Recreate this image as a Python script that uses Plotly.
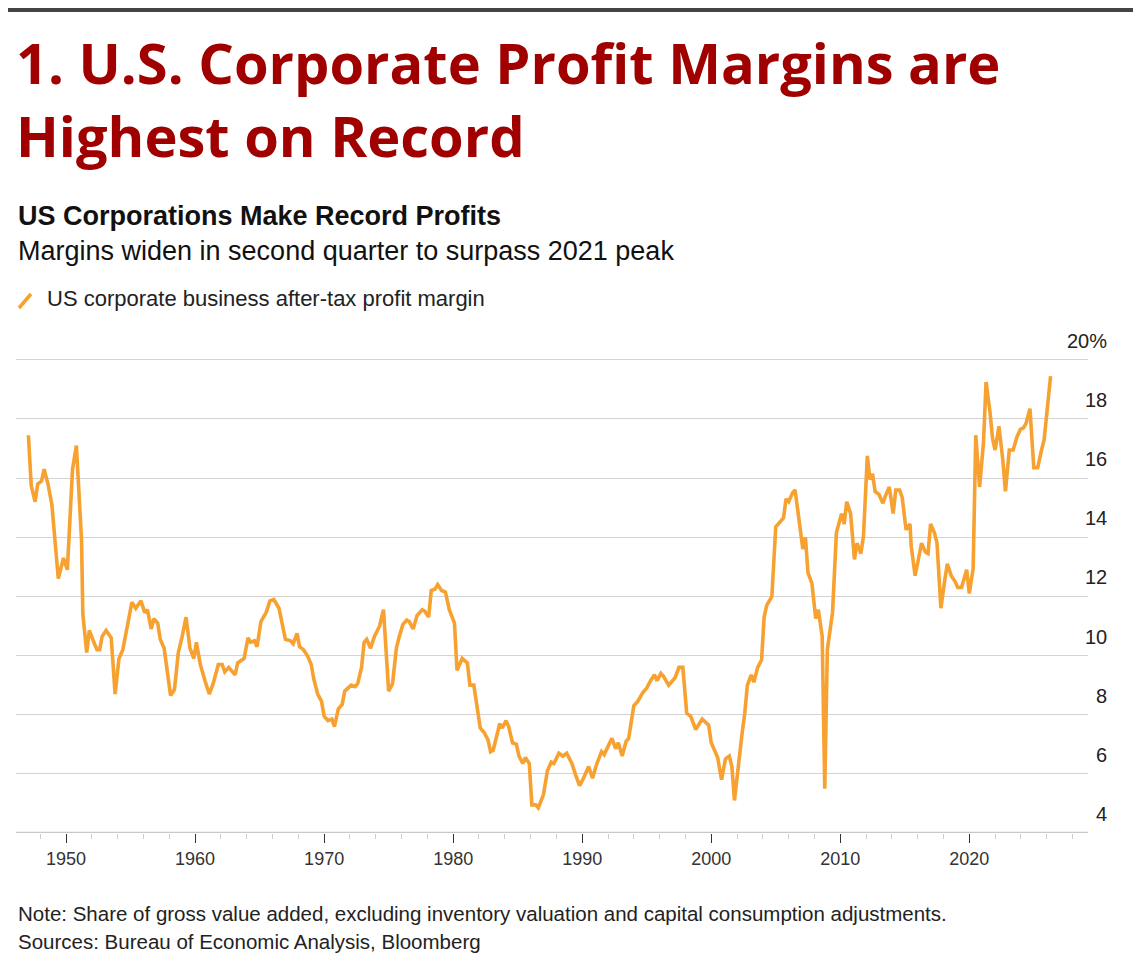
import plotly.graph_objects as go

years = [1947.08, 1947.3, 1947.6, 1947.8, 1948.1, 1948.3, 1948.6, 1948.9, 1949.1, 1949.4,
         1949.8, 1950.1, 1950.5, 1950.8, 1951.2, 1951.3, 1951.6, 1951.8, 1952.2, 1952.4,
         1952.6, 1952.8, 1953.1, 1953.5, 1953.8, 1954.1, 1954.4, 1954.7, 1955.1, 1955.4,
         1955.8, 1956.1, 1956.3, 1956.6, 1956.8, 1957.1, 1957.3, 1957.6, 1957.8, 1958.1,
         1958.4, 1958.7, 1959.0, 1959.3, 1959.6, 1959.9, 1960.1, 1960.4, 1960.8, 1961.1,
         1961.4, 1961.8, 1962.1, 1962.3, 1962.6, 1963.1, 1963.3, 1963.8, 1964.1, 1964.3,
         1964.6, 1964.8, 1965.1, 1965.5, 1965.8, 1966.1, 1966.5, 1966.7, 1967.0, 1967.4,
         1967.6, 1967.9, 1968.1, 1968.4, 1968.7, 1969.0, 1969.2, 1969.5, 1969.8, 1970.0,
         1970.3, 1970.6, 1970.8, 1971.1, 1971.4, 1971.6, 1971.9, 1972.1, 1972.4, 1972.6,
         1972.9, 1973.1, 1973.3, 1973.6, 1973.9, 1974.3, 1974.6, 1974.8, 1975.0, 1975.3,
         1975.6, 1975.8, 1976.1, 1976.4, 1976.6, 1976.9, 1977.2, 1977.6, 1977.8, 1978.1,
         1978.3, 1978.6, 1978.8, 1979.1, 1979.4, 1979.7, 1980.1, 1980.3, 1980.7, 1981.1,
         1981.3, 1981.6, 1981.8, 1982.1, 1982.4, 1982.7, 1982.9, 1983.1, 1983.5, 1983.6,
         1983.8, 1984.1, 1984.3, 1984.6, 1984.9, 1985.1, 1985.4, 1985.6, 1985.9, 1986.1,
         1986.4, 1986.6, 1987.0, 1987.3, 1987.6, 1987.8, 1988.2, 1988.5, 1988.8, 1989.2,
         1989.5, 1989.8, 1990.1, 1990.5, 1990.8, 1991.1, 1991.5, 1991.7, 1992.3, 1992.6,
         1992.8, 1993.1, 1993.4, 1993.6, 1994.0, 1994.3, 1994.7, 1995.0, 1995.3, 1995.6,
         1995.8, 1996.1, 1996.3, 1996.7, 1997.2, 1997.5, 1997.8, 1998.1, 1998.4, 1998.8,
         1999.3, 1999.8, 2000.0, 2000.5, 2000.8, 2001.1, 2001.4, 2001.6, 2001.8, 2002.1,
         2002.4, 2002.6, 2002.8, 2003.1, 2003.3, 2003.6, 2003.9, 2004.1, 2004.3, 2004.7,
         2005.0, 2005.6, 2005.8, 2006.0, 2006.3, 2006.5, 2006.8, 2007.1, 2007.3, 2007.5,
         2007.8, 2008.1, 2008.3, 2008.6, 2008.8, 2009.0, 2009.4, 2009.7, 2010.1, 2010.3,
         2010.5, 2010.8, 2011.1, 2011.3, 2011.6, 2011.8, 2012.1, 2012.3, 2012.5, 2012.7,
         2013.0, 2013.3, 2013.5, 2013.8, 2014.1, 2014.3, 2014.6, 2014.8, 2015.1, 2015.4,
         2015.5, 2015.8, 2016.1, 2016.3, 2016.6, 2016.8, 2017.0, 2017.3, 2017.5, 2017.8,
         2018.1, 2018.3, 2018.6, 2018.9, 2019.1, 2019.4, 2019.8, 2020.0, 2020.3, 2020.5,
         2020.8, 2021.1, 2021.3, 2021.6, 2021.8, 2022.0, 2022.3, 2022.6, 2022.8, 2023.1,
         2023.4, 2023.7, 2023.96, 2024.2, 2024.4, 2024.7, 2025.0, 2025.3, 2025.6, 2025.8,
         2026.3]
margin = [17.45, 15.75, 15.2, 15.8, 15.9, 16.3, 15.8, 15.1, 14.1, 12.6,
          13.3, 12.9, 16.3, 17.1, 13.9, 11.4, 10.1, 10.85, 10.4, 10.2,
          10.2, 10.65, 10.85, 10.6, 8.7, 9.9, 10.2, 10.9, 11.8, 11.6,
          11.85, 11.45, 11.55, 10.9, 11.25, 11.1, 10.55, 10.25, 9.65, 8.65,
          8.85, 10.1, 10.65, 11.3, 10.25, 9.9, 10.45, 9.7, 9.1, 8.7,
          9.05, 9.7, 9.7, 9.45, 9.6, 9.35, 9.75, 9.9, 10.6, 10.45,
          10.5, 10.3, 11.15, 11.45, 11.85, 11.9, 11.6, 11.2, 10.55, 10.5,
          10.4, 10.75, 10.3, 10.2, 10.0, 9.7, 9.2, 8.7, 8.45, 7.95,
          7.8, 7.85, 7.6, 8.2, 8.35, 8.8, 8.9, 9.0, 8.95, 9.05,
          9.6, 10.45, 10.55, 10.25, 10.65, 11.0, 11.55, 10.2, 8.8, 9.05,
          10.25, 10.6, 11.05, 11.2, 11.15, 10.9, 11.35, 11.55, 11.5, 11.3,
          12.2, 12.25, 12.4, 12.2, 12.15, 11.55, 11.1, 9.5, 9.9, 9.75,
          9.0, 9.0, 8.35, 7.55, 7.4, 7.15, 6.75, 6.8, 7.5, 7.7,
          7.55, 7.8, 7.6, 7.05, 7.0, 6.6, 6.35, 6.55, 6.35, 4.95,
          4.95, 4.85, 5.3, 6.1, 6.4, 6.35, 6.7, 6.6, 6.7, 6.35,
          5.95, 5.6, 5.85, 6.25, 5.85, 6.3, 6.75, 6.65, 7.2, 6.85,
          7.05, 6.6, 7.1, 7.2, 8.3, 8.45, 8.75, 8.9, 9.15, 9.35,
          9.15, 9.4, 9.3, 9.0, 9.25, 9.6, 9.6, 8.05, 7.95, 7.5,
          7.85, 7.65, 7.05, 6.55, 5.8, 6.5, 6.6, 6.25, 5.1, 6.4,
          7.4, 8.05, 9.0, 9.35, 9.1, 9.6, 9.85, 11.3, 11.7, 12.0,
          14.35, 14.65, 15.3, 15.2, 15.5, 15.6, 14.6, 13.6, 14.0, 12.8,
          12.45, 11.25, 11.55, 10.65, 5.5, 10.2, 11.45, 14.15, 14.8, 14.45,
          15.2, 14.8, 13.25, 13.8, 13.45, 14.05, 16.75, 15.95, 16.15, 15.55,
          15.45, 15.15, 15.4, 15.7, 14.8, 15.6, 15.6, 15.35, 14.25, 14.45,
          13.7, 12.7, 13.35, 13.8, 13.5, 13.45, 14.45, 14.15, 13.8, 11.6,
          12.55, 13.1, 12.7, 12.5, 12.3, 12.3, 12.9, 12.1, 12.95, 17.45,
          15.7, 17.2, 19.25, 18.25, 17.35, 16.95, 17.75, 16.6, 15.55, 16.95,
          16.95, 17.4, 17.65, 17.7, 17.85, 18.35, 16.35, 16.35, 16.95, 17.3,
          19.45]

y_ticks = [4, 6, 8, 10, 12, 14, 16, 18, 20]
y_labels = ["4", "6", "8", "10", "12", "14", "16", "18", "20%"]
x_ticks = [1950, 1960, 1970, 1980, 1990, 2000, 2010, 2020]

orange = "#f7a131"
font = "Liberation Sans, Arial, sans-serif"

# page px -> paper y (plot bottom at page y 833, plot height 485)
def py(page_y):
    return (833 - page_y) / 485

def px(page_x):
    return (page_x - 18) / 1072

fig = go.Figure()
fig.add_trace(go.Scatter(x=years, y=margin, mode="lines",
                         line=dict(color=orange, width=3.6), hoverinfo="skip"))

fig.update_layout(
    width=1141, height=958,
    margin=dict(l=8, r=61, t=340, b=133),
    paper_bgcolor="white", plot_bgcolor="white",
    showlegend=False,
    font=dict(family=font, color="#222"),
    xaxis=dict(range=[1946.12, 2029.2], tickvals=x_ticks, showgrid=False,
               ticks="outside", ticklen=9, tickcolor="#333", tickwidth=1,
               minor=dict(dtick=2, ticks="outside", ticklen=5, tickcolor="#ccc"),
               showline=False, zeroline=False,
               tickfont=dict(size=18, color="#333")),
    yaxis=dict(range=[4, 20.4], tickvals=y_ticks, showticklabels=False,
               gridcolor="#d3d3d3", gridwidth=1.3, zeroline=False, showline=False),
)

fig.add_hline(y=y_ticks[0], line=dict(color="#c8c8c8", width=2.5))

for v, lab in zip(y_ticks, y_labels):
    fig.add_annotation(x=px(1111), xref="paper", y=v, yref="y", text=lab,
                       showarrow=False, xanchor="right", yanchor="bottom", yshift=6,
                       font=dict(size=20, color="#222"))

fig.add_shape(type="rect", xref="paper", yref="paper", x0=px(8), x1=px(1149),
              y0=py(12), y1=py(8), fillcolor="#444", line_width=0)
fig.add_annotation(x=px(16), xref="paper", y=py(22), yref="paper",
                   xanchor="left", yanchor="top", showarrow=False, align="left",
                   text="<b>1. U.S. Corporate Profit Margins are<br>Highest on Record</b>",
                   font=dict(family="Open Sans, sans-serif", size=56, color="#a00000"))
fig.add_annotation(x=0, xref="paper", y=py(216), yref="paper",
                   xanchor="left", yanchor="middle", showarrow=False,
                   text="<b>US Corporations Make Record Profits</b>",
                   font=dict(family=font, size=27, color="#111"))
fig.add_annotation(x=0, xref="paper", y=py(251), yref="paper",
                   xanchor="left", yanchor="middle", showarrow=False,
                   text="Margins widen in second quarter to surpass 2021 peak",
                   font=dict(family=font, size=27, color="#111"))
fig.add_shape(type="line", xref="paper", yref="paper",
              x0=px(21), x1=px(33), y0=py(308), y1=py(294),
              line=dict(color=orange, width=3.5))
fig.add_annotation(x=px(47), xref="paper", y=py(299), yref="paper",
                   xanchor="left", yanchor="middle", showarrow=False,
                   text="US corporate business after-tax profit margin",
                   font=dict(family=font, size=22, color="#222"))
fig.add_annotation(x=0, xref="paper", y=py(913), yref="paper",
                   xanchor="left", yanchor="middle", showarrow=False,
                   text="Note: Share of gross value added, excluding inventory valuation and capital consumption adjustments.",
                   font=dict(family=font, size=20.5, color="#222"))
fig.add_annotation(x=0, xref="paper", y=py(941), yref="paper",
                   xanchor="left", yanchor="middle", showarrow=False,
                   text="Sources: Bureau of Economic Analysis, Bloomberg",
                   font=dict(family=font, size=20.5, color="#222"))

fig.write_html("out.html")
